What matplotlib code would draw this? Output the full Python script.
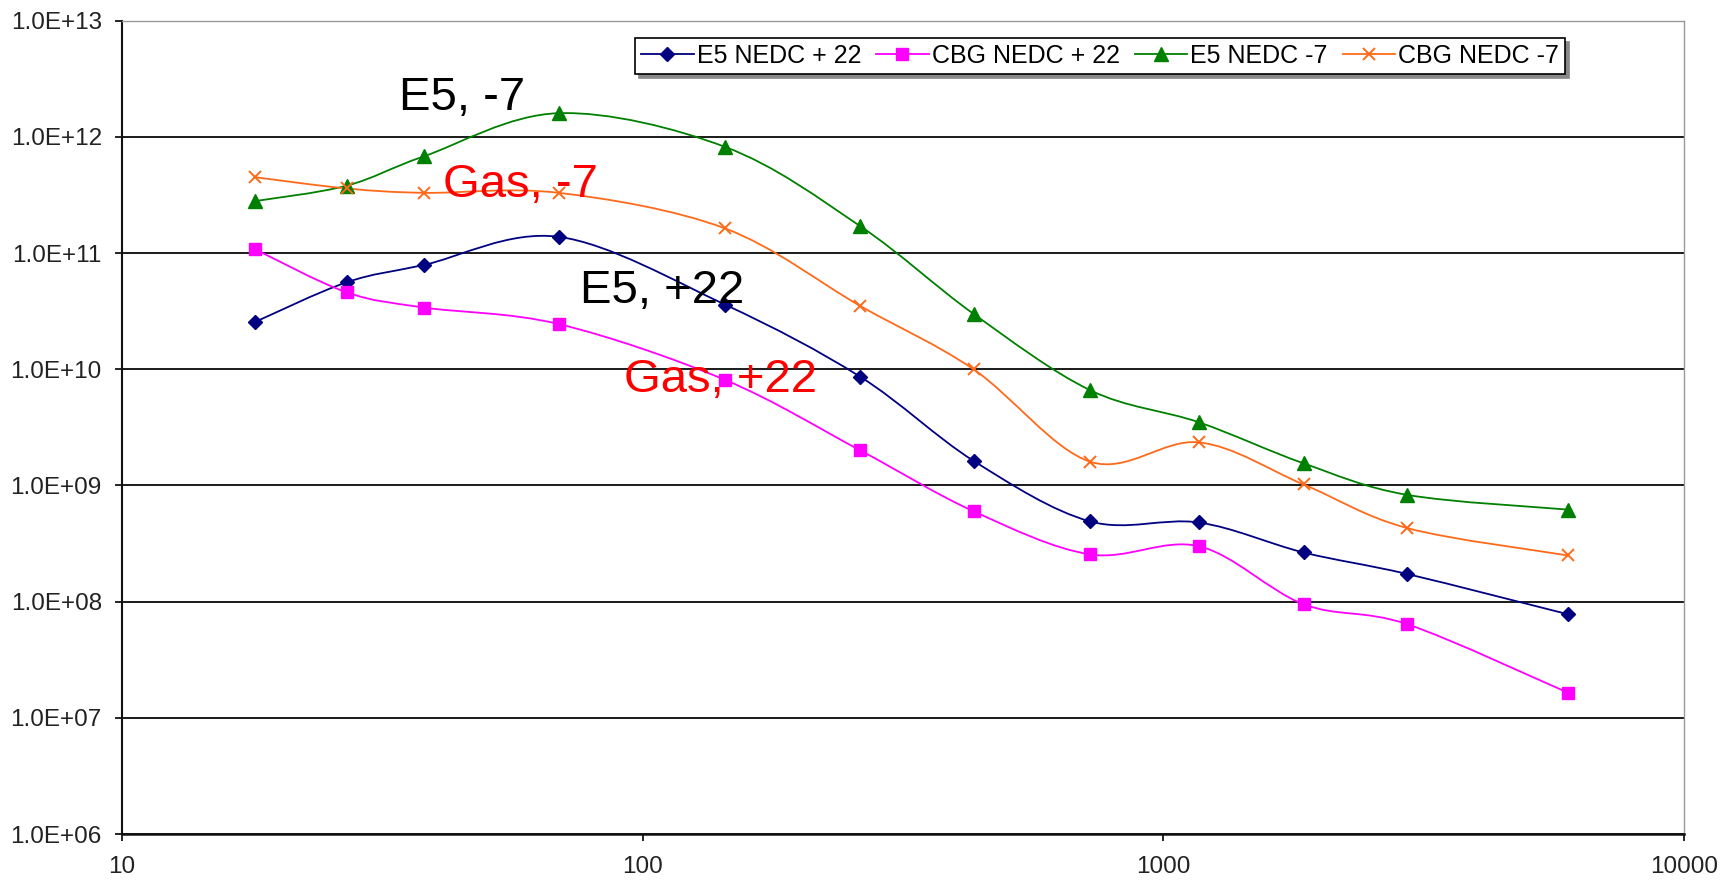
import matplotlib
matplotlib.use('Agg')
import matplotlib.pyplot as plt
import numpy as np
from matplotlib.path import Path
from matplotlib.patches import PathPatch
from matplotlib.lines import Line2D

plt.rcParams['font.family'] = ['Liberation Sans', 'DejaVu Sans']

# particle size (x) and the four series (y)
size_nm = [18, 27, 38, 69, 144, 262, 432, 724, 1170, 1860, 2940, 5980]
e5_p22 = [2.55e10, 5.6e10, 7.9e10, 1.38e11, 3.6e10, 8.6e9, 1.63e9, 4.9e8, 4.8e8, 2.65e8, 1.73e8, 7.8e7]
cbg_p22 = [1.08e11, 4.6e10, 3.4e10, 2.45e10, 8.1e9, 2.0e9, 6.0e8, 2.55e8, 3.0e8, 9.5e7, 6.4e7, 1.65e7]
e5_m7 = [2.8e11, 3.8e11, 6.8e11, 1.6e12, 8.2e11, 1.7e11, 3.0e10, 6.6e9, 3.5e9, 1.55e9, 8.3e8, 6.2e8]
cbg_m7 = [4.5e11, 3.6e11, 3.3e11, 3.3e11, 1.63e11, 3.5e10, 1.0e10, 1.6e9, 2.35e9, 1.02e9, 4.3e8, 2.5e8]

labels = ['E5 NEDC + 22', 'CBG NEDC + 22', 'E5 NEDC -7', 'CBG NEDC -7']
y_exp = list(range(6, 14))
x_ticks = [10, 100, 1000, 10000]

# colours / markers (excel look)
navy = '#000080'
magenta = '#FF00FF'
green = '#008000'
orange = '#FF6A1A'


def smooth_path(x, y):
	# excel style smoothed line: cubic bezier through the points (in log-log space)
	lx = np.log10(x)
	ly = np.log10(y)
	P = np.column_stack([lx, ly])
	n = len(P)
	verts = [P[0]]
	codes = [Path.MOVETO]
	for i in range(n - 1):
		p0 = P[max(i - 1, 0)]
		p1 = P[i]
		p2 = P[i + 1]
		p3 = P[min(i + 2, n - 1)]
		c1 = p1 + (p2 - p0) / 6.0
		c2 = p2 - (p3 - p1) / 6.0
		verts += [c1, c2, p2]
		codes += [Path.CURVE4] * 3
	verts = 10 ** np.array(verts)
	return Path(verts, codes)


fig = plt.figure(figsize=(17.28, 8.85), dpi=100)
ax = fig.add_axes([0.0706, 0.0576, 0.9039, 0.919])
ax.set_xscale('log')
ax.set_yscale('log')
ax.set_xlim(10, 10000)
ax.set_ylim(1e6, 1e13)

series = [
	(e5_p22, navy, 'D', 7, 1.0),
	(cbg_p22, magenta, 's', 9, 1.0),
	(e5_m7, green, '^', 10, 1.0),
	(cbg_m7, orange, 'x', 9, 1.4),
]
handles = []
for (vals, col, mk, ms, mew), lab in zip(series, labels):
	ax.add_patch(PathPatch(smooth_path(size_nm, vals), facecolor='none', edgecolor=col, lw=1.3, zorder=3))
	ax.plot(size_nm, vals, linestyle='none', marker=mk, markersize=ms, color=col, mew=mew, zorder=4)
	handles.append(Line2D([], [], color=col, lw=1.3, marker=mk, markersize=ms, mew=mew))

# horizontal gridlines only
ax.set_yticks([10.0 ** e for e in y_exp])
ax.set_yticklabels(['1.0E+%02d' % e for e in y_exp])
ax.set_xticks(x_ticks)
ax.set_xticklabels([str(t) for t in x_ticks])
ax.minorticks_off()
ax.yaxis.grid(True, color='#1a1a1a', lw=1.4)
ax.xaxis.grid(False)
ax.tick_params(axis='y', direction='out', length=5, width=1.2, pad=9.5, labelsize=17.5, labelcolor='#222222')
ax.tick_params(axis='x', direction='out', length=5, width=1.2, pad=11, labelsize=17.5, labelcolor='#222222')

ax.spines['left'].set_color('#111111')
ax.spines['left'].set_linewidth(1.5)
ax.spines['bottom'].set_color('#111111')
ax.spines['bottom'].set_linewidth(1.8)
ax.spines['top'].set_color('#999999')
ax.spines['top'].set_linewidth(1.0)
ax.spines['right'].set_color('#999999')
ax.spines['right'].set_linewidth(1.0)

# annotations
ax.text(34.0, 1.70e12, 'E5, -7', fontsize=34, color='black', ha='left', va='baseline', zorder=5)
ax.text(41.4, 3.04e11, 'Gas, -7', fontsize=34, color='red', ha='left', va='baseline', zorder=5)
ax.text(75.7, 3.72e10, 'E5, +22', fontsize=34, color='black', ha='left', va='baseline', zorder=5)
ax.text(92.1, 6.38e9, 'Gas, +22', fontsize=34, color='red', ha='left', va='baseline', zorder=5)

leg = ax.legend(handles, labels, loc='upper right', bbox_to_anchor=(0.924, 0.979), ncol=4,
	fontsize=18, frameon=True, fancybox=False, borderpad=0.25, handlelength=2.1,
	handletextpad=0.12, columnspacing=0.6, borderaxespad=0,
	shadow={'ox': 3, 'oy': -3, 'color': '#888888', 'alpha': 1})
leg.get_frame().set_edgecolor('black')
leg.get_frame().set_linewidth(1.2)
leg.set_zorder(6)

plt.savefig('out.png', dpi=100)
